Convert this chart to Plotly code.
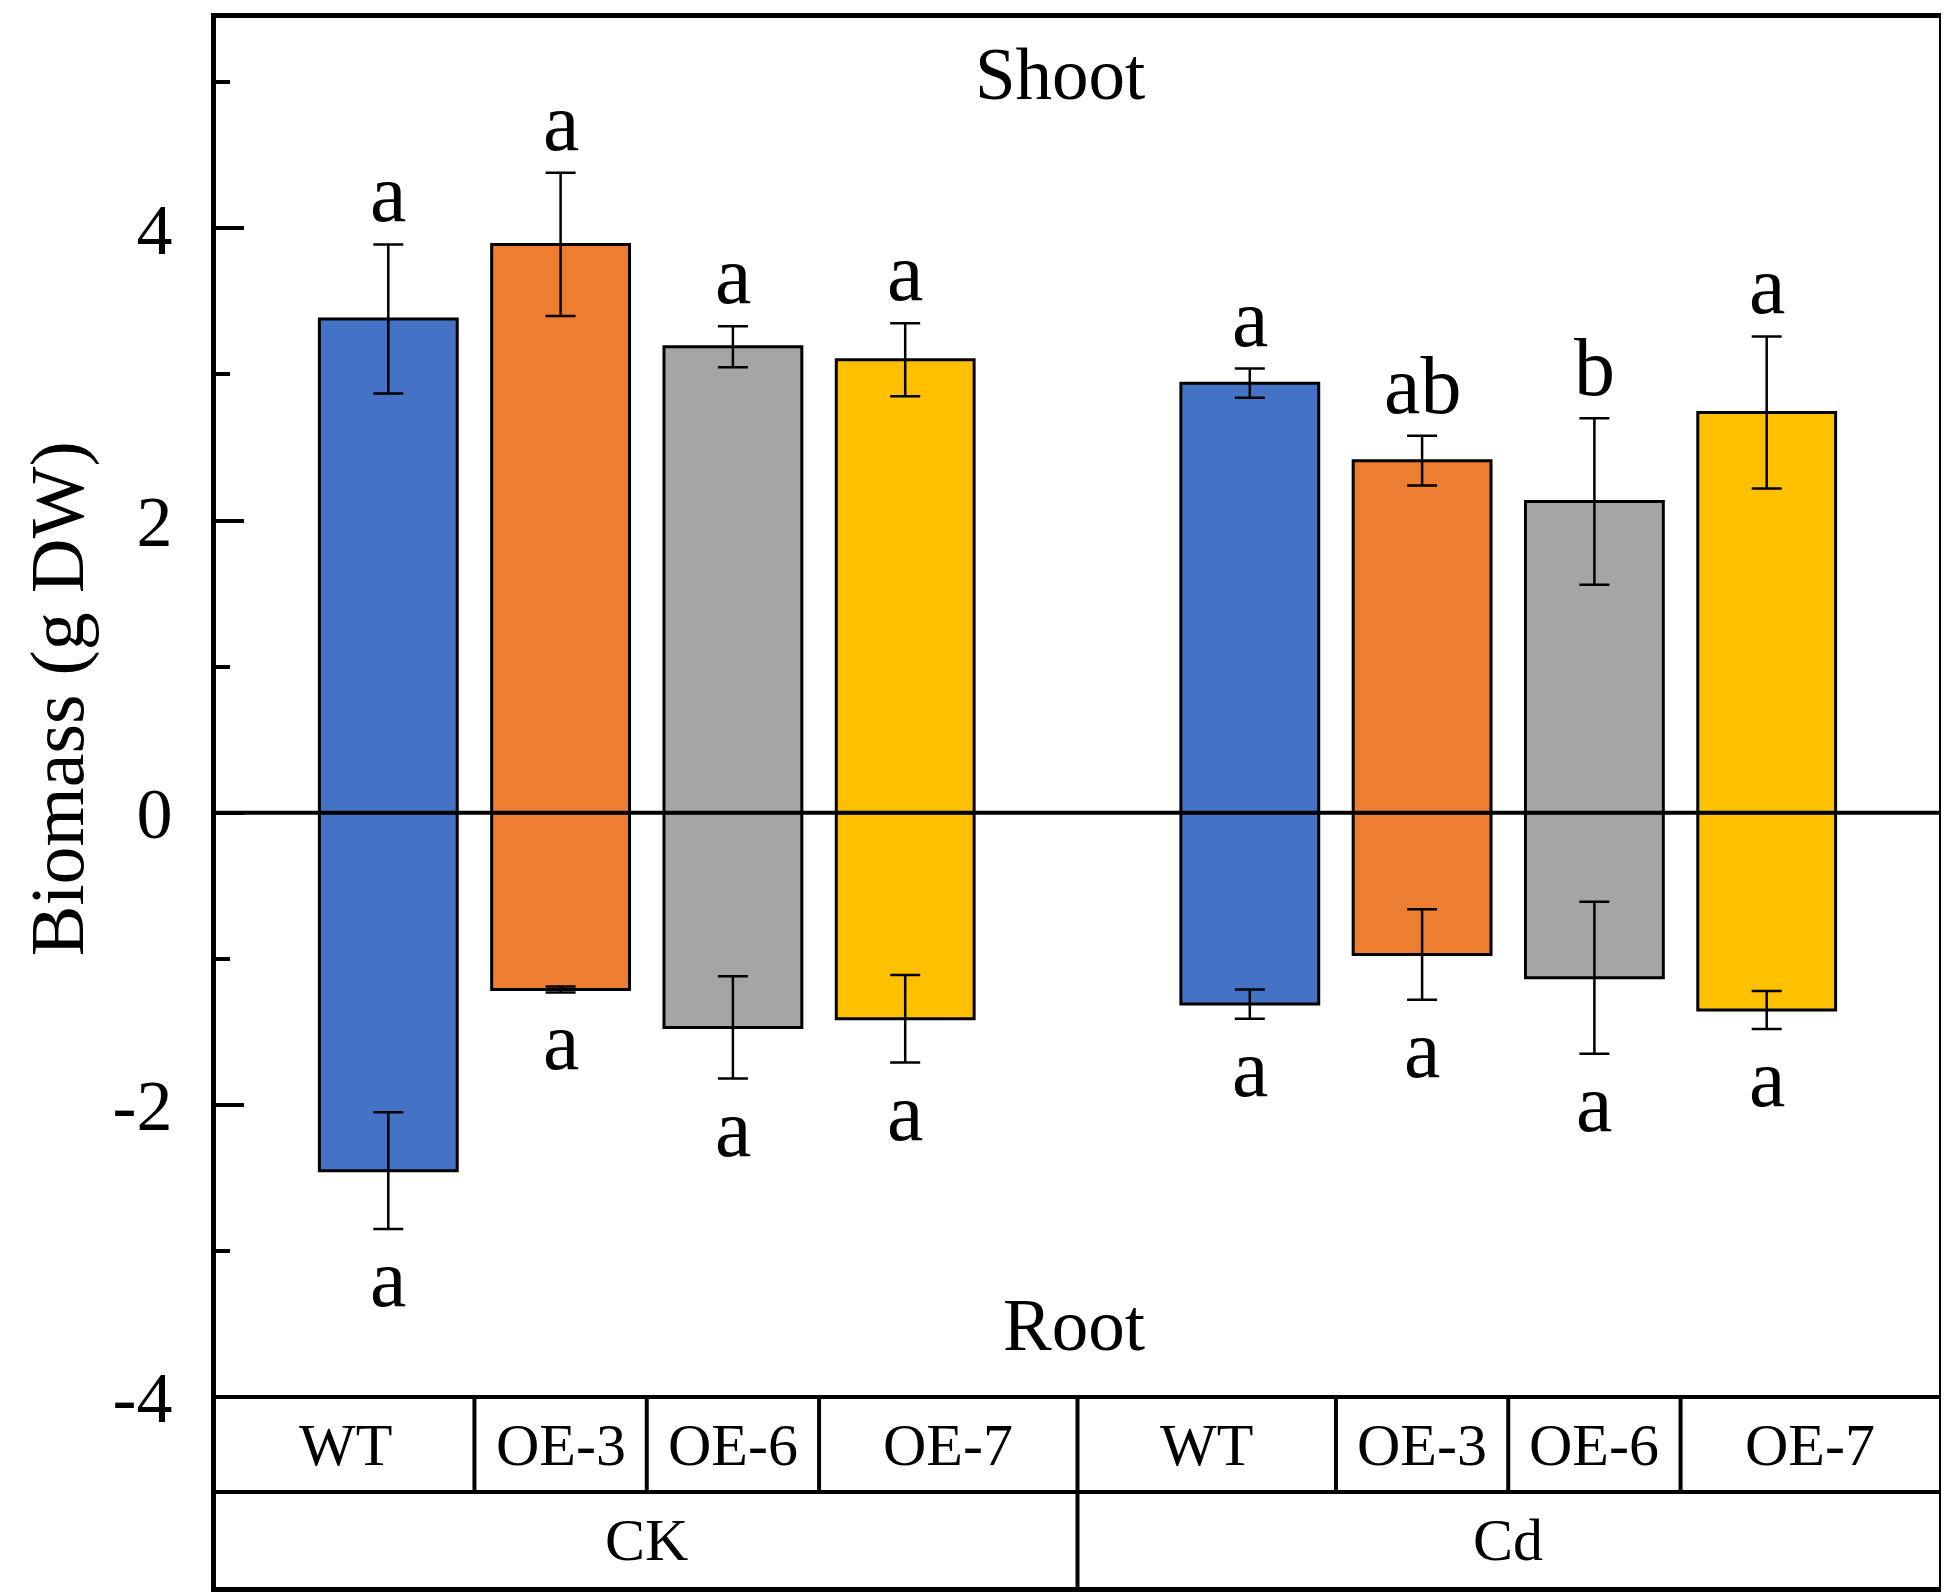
import plotly.graph_objects as go

# data
treatments = ["CK", "Cd"]
lines = ["WT", "OE-3", "OE-6", "OE-7"]
line_colors = ["#4472C4", "#ED7D31", "#A5A5A5", "#FFC000"]

shoot = [3.38, 3.89, 3.19, 3.10, 2.94, 2.41, 2.13, 2.74]
shoot_err = [0.51, 0.49, 0.14, 0.25, 0.10, 0.17, 0.57, 0.52]
shoot_letters = ["a", "a", "a", "a", "a", "ab", "b", "a"]

root = [-2.45, -1.21, -1.47, -1.41, -1.31, -0.97, -1.13, -1.35]
root_err = [0.40, 0.02, 0.35, 0.30, 0.10, 0.31, 0.52, 0.13]
root_letters = ["a", "a", "a", "a", "a", "a", "a", "a"]

FONT = "Liberation Serif, Times New Roman, serif"

# bar positions: one slot gap between the two treatment groups
n = len(lines)
x = [g * (n + 1) + i + 1 for g in range(len(treatments)) for i in range(n)]
colors = line_colors * len(treatments)
x_max = len(treatments) * (n + 1)

y_lo, y_hi = -5.30, 5.44
row1_top, row1_bot = -4.0, -4.65

fig = go.Figure()
fig.add_trace(go.Bar(
    x=x, y=shoot, width=0.8,
    marker=dict(color=colors, line=dict(color="black", width=3)),
    error_y=dict(type="data", array=shoot_err, color="black", thickness=2.5, width=15),
    showlegend=False,
))
fig.add_trace(go.Bar(
    x=x, y=root, width=0.8,
    marker=dict(color=colors, line=dict(color="black", width=3)),
    error_y=dict(type="data", array=root_err, color="black", thickness=2.5, width=15),
    showlegend=False,
))

# zero line
fig.add_shape(type="line", x0=0, x1=x_max, y0=0, y1=0,
              line=dict(color="black", width=4), layer="above")

# significance letters
for xi, v, e, t in zip(x, shoot, shoot_err, shoot_letters):
    fig.add_annotation(x=xi, y=v + e, text=t, showarrow=False, yanchor="bottom",
                       yshift=3, font=dict(family=FONT, size=82, color="black"))
for xi, v, e, t in zip(x, root, root_err, root_letters):
    fig.add_annotation(x=xi, y=v - e, text=t, showarrow=False, yanchor="top",
                       yshift=-2, font=dict(family=FONT, size=82, color="black"))

fig.add_annotation(x=4.9, y=5.05, text="Shoot", showarrow=False,
                   font=dict(family=FONT, size=73, color="black"))
fig.add_annotation(x=4.98, y=-3.51, text="Root", showarrow=False,
                   font=dict(family=FONT, size=73, color="black"))

# category table at the bottom of the frame
tbl = dict(color="black", width=4)
fig.add_shape(type="line", x0=0, x1=x_max, y0=row1_top, y1=row1_top, line=tbl)
fig.add_shape(type="line", x0=0, x1=x_max, y0=row1_bot, y1=row1_bot, line=tbl)
for g, trt in enumerate(treatments):
    gx = [xx for k, xx in enumerate(x) if k // n == g]
    left, right = g * (n + 1), (g + 1) * (n + 1)
    edges = [left] + [(gx[i] + gx[i + 1]) / 2 for i in range(n - 1)] + [right]
    for e in edges[1:-1]:
        fig.add_shape(type="line", x0=e, x1=e, y0=row1_top, y1=row1_bot, line=tbl)
    if g > 0:
        fig.add_shape(type="line", x0=left, x1=left, y0=row1_top, y1=y_lo, line=tbl)
    for i, name in enumerate(lines):
        fig.add_annotation(x=(edges[i] + edges[i + 1]) / 2, y=(row1_top + row1_bot) / 2,
                           text=name, showarrow=False,
                           font=dict(family=FONT, size=60, color="black"))
    fig.add_annotation(x=(left + right) / 2, y=(row1_bot + y_lo) / 2, text=trt,
                       showarrow=False, font=dict(family=FONT, size=60, color="black"))

# y axis title
fig.add_annotation(xref="paper", yref="y", x=-0.092, y=0.78, text="Biomass (g DW)",
                   textangle=-90, showarrow=False, xanchor="center", yanchor="middle",
                   font=dict(family=FONT, size=76, color="black"))

# page body has an 8px margin, so the figure is shifted accordingly
fig.update_layout(
    width=1941, height=1587,
    margin=dict(l=208, r=6, t=5, b=8),
    plot_bgcolor="white", paper_bgcolor="white",
    barmode="overlay",
    font=dict(family=FONT, color="black"),
    xaxis=dict(range=[0, x_max], showticklabels=False, ticks="", showgrid=False,
               zeroline=False, showline=True, mirror=True, linecolor="black", linewidth=5),
    yaxis=dict(range=[y_lo, y_hi], tickmode="array", tickvals=[-4, -2, 0, 2, 4],
               ticktext=["-4", "-2", "0", "2", "4"],
               ticks="inside", ticklen=28, tickwidth=4, tickcolor="black",
               minor=dict(tickmode="array", tickvals=[-3, -1, 1, 3, 5], ticks="inside",
                          ticklen=14, tickwidth=4, tickcolor="black"),
               ticklabelstandoff=24,
               tickfont=dict(family=FONT, size=72, color="black"),
               showgrid=False, zeroline=False, showline=True, mirror=True,
               linecolor="black", linewidth=5),
)

fig.write_html("out.html")
